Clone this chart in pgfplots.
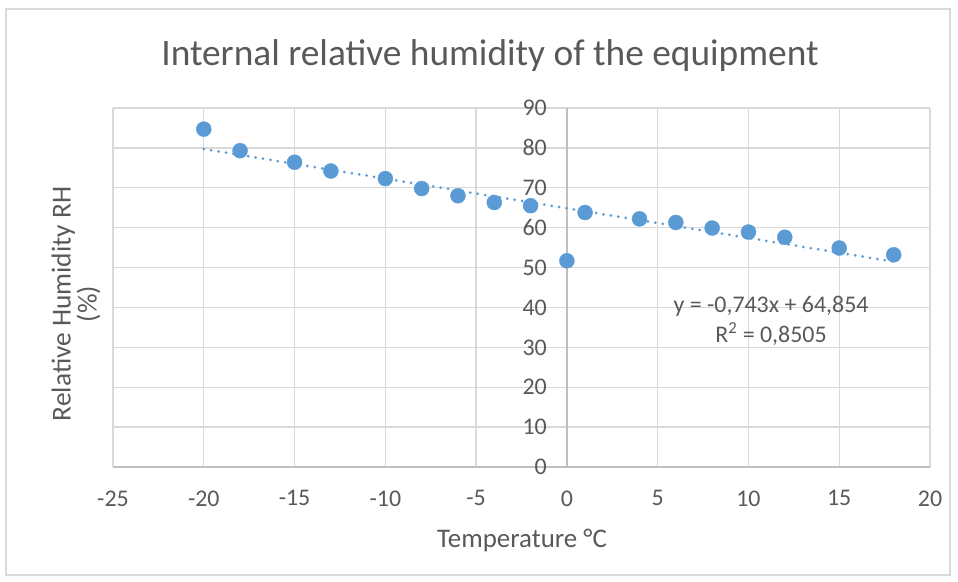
\documentclass[border=0pt]{standalone}
\usepackage{fontspec}
\setmainfont{Carlito}
\usepackage{pgfplots}
\pgfplotsset{compat=1.18}
\definecolor{txt}{HTML}{595959}
\definecolor{grd}{HTML}{D9D9D9}
\definecolor{axc}{HTML}{BFBFBF}
\definecolor{blu}{HTML}{5B9BD5}
\begin{document}
\begin{tikzpicture}[x=1bp,y=1bp]
\path[use as bounding box] (0,0) rectangle (958,582);
\draw[grd, line width=1.2bp] (6,7) rectangle (950,573);
\begin{axis}[at={(113bp,115bp)}, anchor=south west, scale only axis,
  width=817bp, height=359bp,
  xmin=-25, xmax=20, ymin=0, ymax=90,
  xtick={-25,-20,...,20}, ytick={0,10,...,90},
  axis x line=bottom, axis y line=left,
  x axis line style={-, axc, line width=1.3bp},
  y axis line style={-, draw=none},
  major tick length=0pt,
  grid=major, grid style={grd, line width=1.3bp},
  extra x ticks={0}, extra x tick labels={},
  extra x tick style={grid style={axc, line width=1.5bp}},
  tick label style={txt, font=\fontsize{24}{24}\selectfont},
  /pgf/number format/assume math mode=true,
  xticklabel style={yshift=-20bp},
  yticklabel style={inner sep=0pt, anchor=east, xshift=434bp},
  clip=false,
]
\addplot[blu, line width=3bp, line cap=round, dash pattern=on 0bp off 7.5bp]
  coordinates {(-20,79.714) (18,51.48)};
\addplot[only marks, mark=*, mark size=7.5bp, blu, mark options={draw=blu, fill=blu}]
  coordinates {
  (-20,84.7) (-18,79.3) (-15,76.4) (-13,74.2) (-10,72.3) (-8,69.8)
  (-6,68.0) (-4,66.3) (-2,65.5) (0,51.7) (1,63.8) (4,62.2) (6,61.3)
  (8,59.9) (10,58.9) (12,57.6) (15,54.9) (18,53.2)};
\end{axis}
\node[txt, font=\fontsize{37.5}{37.5}\selectfont] at (490,526) {Internal relative humidity of the equipment};
\node[txt, rotate=90, align=center, font=\fontsize{27.5}{26}\selectfont] at (76,278) {Relative Humidity RH\\(\%)};
\node[txt, font=\fontsize{27}{27}\selectfont] at (522,42) {Temperature °C};
\node[txt, font=\fontsize{24}{30}\selectfont, align=center] at (771,261) {y = -0,743x + 64,854\\R\textsuperscript{2} = 0,8505};
\end{tikzpicture}
\end{document}
